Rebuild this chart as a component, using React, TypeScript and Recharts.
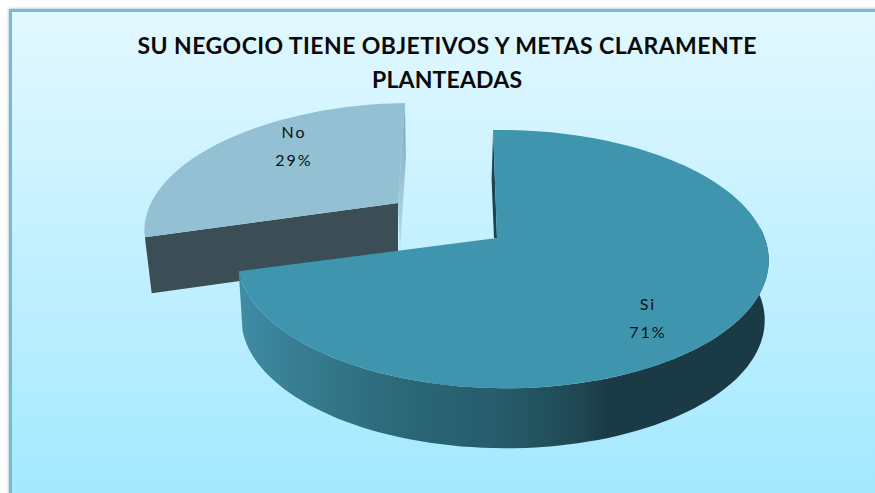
import React from "react";
import { Pie, PieChart } from "recharts";

const sliceNames = ["No", "Si"];
const sliceValues = [29, 71];
const titleLines = ["SU NEGOCIO TIENE OBJETIVOS Y METAS CLARAMENTE", "PLANTEADAS"];

const chartData = sliceNames.map((name, i) => ({ name, value: sliceValues[i] }));

const WIDTH = 875;
const HEIGHT = 493;

type View = {
  ox: number; oy: number;
  b: number; c: number; d: number; a: number;
  p: number; q: number;
  depth: number; narrow: number; pivot: number;
};

// Each slice gets its own tilted plane, the pulled-out one sits further back
const views: Record<string, View> = {
  No: { ox: 398, oy: 203, b: 247, c: 16.8, d: 0, a: 116, p: 0.16, q: 0, depth: 56, narrow: 0.973, pivot: 398 },
  Si: { ox: 497, oy: 238, b: 262, c: 4.6, d: 3, a: 125.6, p: 0.163, q: -0.025, depth: 60, narrow: 0.985, pivot: 503 },
};

const labelSpots: Record<string, { x: number; y: number }> = {
  No: { x: 294, y: 138 },
  Si: { x: 648, y: 310 },
};

function project(v: View, deg: number) {
  const t = (deg * Math.PI) / 180;
  const u = Math.cos(t);
  const w = Math.sin(t);
  const k = 1 + v.p * w + v.q * u;
  return { x: v.ox + (v.b * u + v.c * w) / k, y: v.oy + (v.d * u - v.a * w) / k };
}

function extrude(v: View, pt: { x: number; y: number }) {
  return { x: v.pivot + (pt.x - v.pivot) * v.narrow, y: pt.y + v.depth };
}

function arc(v: View, from: number, to: number) {
  const n = Math.max(2, Math.ceil(Math.abs(to - from) / 2));
  const pts = [];
  for (let i = 0; i <= n; i++) pts.push(project(v, from + ((to - from) * i) / n));
  return pts;
}

const toPath = (pts: { x: number; y: number }[]) =>
  pts.map((p, i) => `${i ? "L" : "M"}${p.x.toFixed(1)},${p.y.toFixed(1)}`).join(" ") + " Z";

function Slice3D(props: any) {
  const name = props.name ?? props.payload?.name;
  const v = views[name];
  const { startAngle, endAngle } = props;
  const apex = { x: v.ox, y: v.oy };
  const top = [apex, ...arc(v, startAngle, endAngle)];

  if (name === "No") {
    const corner = project(v, startAngle);
    const back = project(v, endAngle);
    return (
      <g>
        <path
          d={toPath([back, { x: back.x + 1, y: back.y + 54 }, { x: apex.x + 2, y: apex.y + 47 }, apex])}
          fill="url(#noEdge)"
        />
        <path d={toPath([corner, apex, extrude(v, apex), extrude(v, corner)])} fill="#3b4e55" />
        <path d={toPath(top)} fill="#93c0d2" />
      </g>
    );
  }

  // Si: only the front of the rim shows, the back stays behind the top face
  const rim = arc(v, endAngle, 6);
  const edgeTop = project(v, startAngle);
  return (
    <g>
      <path d={toPath([...rim, ...rim.map((p) => extrude(v, p)).reverse()])} fill="url(#siRim)" />
      <path
        d={toPath([edgeTop, { x: edgeTop.x - 1.5, y: edgeTop.y + 50 }, { x: apex.x - 3, y: apex.y }, apex])}
        fill="#1c4450"
      />
      <path d={toPath(top)} fill="#3f95ae" />
    </g>
  );
}

function SliceLabel(props: any) {
  const spot = labelSpots[props.name];
  const style = { fontFamily: "Lato", fontSize: 16, letterSpacing: 2, fill: "#111" };
  return (
    <g>
      <text x={spot.x} y={spot.y} textAnchor="middle" style={style}>{props.name}</text>
      <text x={spot.x} y={spot.y + 28} textAnchor="middle" style={style}>{`${props.value}%`}</text>
    </g>
  );
}

export default function App() {
  return (
    <div style={{ position: "fixed", left: 0, top: 0, width: WIDTH, height: HEIGHT, overflow: "hidden", background: "#fff" }}>
      <div
        style={{
          position: "absolute", left: 9, top: 9, width: WIDTH + 20, height: HEIGHT + 20, boxSizing: "border-box",
          border: "3px solid #6fbdd6", boxShadow: "0 0 3px rgba(0,0,0,0.35)",
          background: "linear-gradient(180deg, #e2f8ff 0%, #a0e8ff 100%)",
        }}
      />
      <div style={{ position: "absolute", left: 0, top: 0 }}>
        <PieChart width={WIDTH} height={HEIGHT} margin={{ top: 0, right: 0, bottom: 0, left: 0 }}>
          <defs>
            <linearGradient id="siRim" gradientUnits="userSpaceOnUse" x1="238" y1="0" x2="770" y2="0">
              <stop offset="0%" stopColor="#3f8da6" />
              <stop offset="12%" stopColor="#377c90" />
              <stop offset="31%" stopColor="#2b6878" />
              <stop offset="50%" stopColor="#265b6a" />
              <stop offset="64%" stopColor="#1f4753" />
              <stop offset="70%" stopColor="#1a3a45" />
              <stop offset="100%" stopColor="#1a3a45" />
            </linearGradient>
            <linearGradient id="noEdge" x1="0" y1="0" x2="0" y2="1">
              <stop offset="0%" stopColor="#7aa9bb" />
              <stop offset="100%" stopColor="#b8dbe8" />
            </linearGradient>
          </defs>
          {titleLines.map((line, i) => (
            <text
              key={line}
              x={447}
              y={54 + i * 34}
              textAnchor="middle"
              textLength={i === 0 ? 619 : 150}
              style={{ fontFamily: "Lato", fontWeight: 700, fontSize: 23, fill: "#0a0a0a" }}
            >
              {line}
            </text>
          ))}
          <Pie
            data={chartData}
            dataKey="value"
            nameKey="name"
            cx={497}
            cy={238}
            outerRadius={200}
            startAngle={196.4}
            endAngle={-163.6}
            stroke="none"
            shape={Slice3D}
            label={SliceLabel}
            labelLine={false}
            isAnimationActive={false}
          />
        </PieChart>
      </div>
    </div>
  );
}
